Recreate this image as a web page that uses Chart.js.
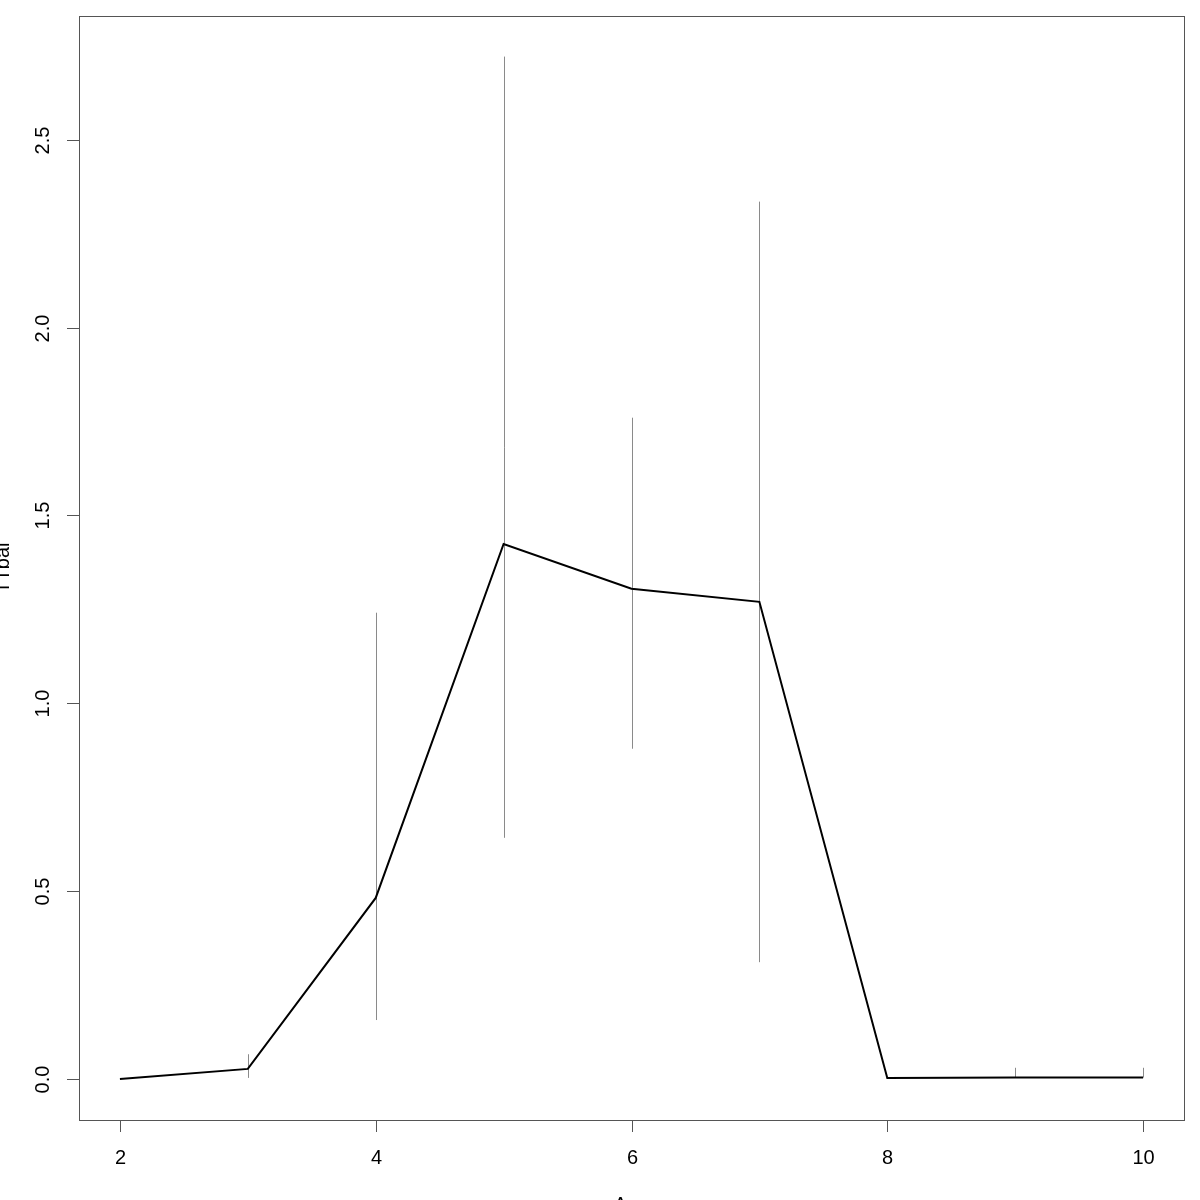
<!DOCTYPE html>
<html><head><meta charset="utf-8">
<script src="https://cdn.jsdelivr.net/npm/chart.js@4/dist/chart.umd.min.js"></script>
<style>html,body{margin:0;padding:0;background:#fff}#wrap{width:1200px;height:1200px}</style>
</head><body><div id="wrap"><canvas id="c" width="1200" height="1200"></canvas></div>
<script>
const ages = [2, 3, 4, 5, 6, 7, 8, 9, 10];
const means = [0.000, 0.027, 0.482, 1.424, 1.305, 1.270, 0.003, 0.004, 0.004];
const lower = [null, 0.003, 0.157, 0.642, 0.879, 0.311, null, 0.004, 0.004];
const upper = [null, 0.066, 1.241, 2.721, 1.760, 2.335, null, 0.030, 0.030];
const xTicks = [2, 4, 6, 8, 10];
const yTicks = [0.0, 0.5, 1.0, 1.5, 2.0, 2.5];
const yTickLabels = ["0.0", "0.5", "1.0", "1.5", "2.0", "2.5"];
const xTitle = "Age";
const yTitle = "TTbal";

const FONT = '20px "Liberation Sans", Arial, sans-serif';

const rAxes = {
  id: 'rAxes',
  beforeDatasetsDraw(chart) {
    const ctx = chart.ctx, x = chart.scales.x, y = chart.scales.y;
    ctx.save();
    ctx.strokeStyle = '#8a8a8a';
    ctx.lineWidth = 1;
    for (let i = 0; i < ages.length; i++) {
      if (lower[i] === null || upper[i] === null) continue;
      const px = Math.round(x.getPixelForValue(ages[i])) + 0.5;
      ctx.beginPath();
      ctx.moveTo(px, y.getPixelForValue(lower[i]));
      ctx.lineTo(px, y.getPixelForValue(upper[i]));
      ctx.stroke();
    }
    ctx.restore();
  },
  afterDraw(chart) {
    const ctx = chart.ctx, a = chart.chartArea, x = chart.scales.x, y = chart.scales.y;
    ctx.save();
    ctx.strokeStyle = '#555';
    ctx.lineWidth = 1;
    ctx.strokeRect(Math.round(a.left) + 0.5, Math.round(a.top) + 0.5, Math.round(a.right - a.left), Math.round(a.bottom - a.top));
    ctx.fillStyle = '#000';
    ctx.font = FONT;
    // x ticks
    ctx.textAlign = 'center'; ctx.textBaseline = 'middle';
    xTicks.forEach(v => {
      const px = Math.round(x.getPixelForValue(v)) + 0.5;
      ctx.beginPath(); ctx.moveTo(px, a.bottom); ctx.lineTo(px, a.bottom + 12); ctx.stroke();
      ctx.fillText(String(v), px, 1158);
    });
    // y ticks
    yTicks.forEach((v, i) => {
      const py = Math.round(y.getPixelForValue(v)) + 0.5;
      ctx.beginPath(); ctx.moveTo(a.left, py); ctx.lineTo(a.left - 12, py); ctx.stroke();
      ctx.save();
      ctx.translate(43, py);
      ctx.rotate(-Math.PI / 2);
      ctx.fillText(yTickLabels[i], 0, 0);
      ctx.restore();
    });
    // titles
    ctx.textBaseline = 'alphabetic';
    ctx.fillText(xTitle, (a.left + a.right) / 2, 1211);
    ctx.save();
    ctx.translate(9, (a.top + a.bottom) / 2);
    ctx.rotate(-Math.PI / 2);
    ctx.fillText(yTitle, 0, 0);
    ctx.restore();
    ctx.restore();
  }
};

new Chart(document.getElementById('c'), {
  type: 'line',
  data: {
    datasets: [{
      data: ages.map((a, i) => ({ x: a, y: means[i] })),
      borderColor: '#000',
      borderWidth: 2,
      pointRadius: 0,
      tension: 0,
      fill: false
    }]
  },
  options: {
    responsive: false,
    animation: false,
    layout: { padding: { left: 79, right: 16, top: 16, bottom: 80 } },
    plugins: { legend: { display: false }, tooltip: { enabled: false } },
    scales: {
      x: { type: 'linear', display: false, min: 1.68, max: 10.32 },
      y: { type: 'linear', display: false, min: -0.109, max: 2.829 }
    }
  },
  plugins: [rAxes]
});
</script></body></html>
